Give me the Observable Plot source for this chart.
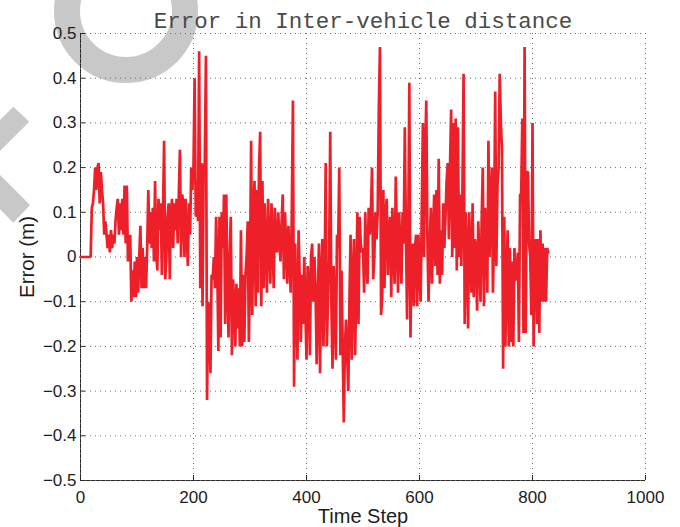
<!DOCTYPE html>
<html>
<head>
<meta charset="utf-8">
<script src="https://cdn.jsdelivr.net/npm/d3@7"></script>
<script src="https://cdn.jsdelivr.net/npm/@observablehq/plot@0.6"></script>
<style>
  html, body { margin: 0; padding: 0; background: #fff; }
  #chart { width: 680px; height: 527px; }
</style>
</head>
<body>
<div id="chart"></div>
<script>
// Spacing error between the two vehicles, sampled every 2 time steps (t = 0 … 828).
const sampleStep = 2;
const errorMeters = [
  0, 0, 0, 0, 0, 0, 0, 0, 0, 0,
  0.11, 0.12, 0.15, 0.20, 0.15, 0.20, 0.21, 0.12, 0.19, 0.15,
  0.12, 0.05, 0.08, 0.05, 0.02, 0.05, 0.01, 0.06, 0.02, 0.05,
  0.03, 0.08, 0.11, 0.13, 0.05, 0.12, 0.06, 0.13, 0.05, 0.16,
  0.03, 0.16, -0.01, 0.02, 0.05, -0.10, -0.03, -0.09, -0.01, -0.09,
  0.00, -0.08, 0.00, 0.07, -0.07, 0.02, -0.07, 0.00, -0.07, 0.02,
  0.15, 0.03, 0.10, 0.02, 0.11, -0.01, 0.17, 0.01, -0.03, 0.13,
  0.06, 0.12, -0.04, 0.10, 0.26, -0.05, 0.00, 0.09, 0.12, -0.05,
  0.10, 0.13, 0.02, 0.12, 0.06, 0.13, 0.03, 0.14, 0.24, 0.00,
  0.14, 0.12, 0.00, 0.13, 0.05, -0.02, 0.12, 0.05, 0.20, 0.15,
  0.20, 0.40, 0.09, 0.17, 0.08, 0.46, -0.07, 0.21, -0.11, 0.20,
  0.21, 0.45, -0.32, -0.10, -0.12, -0.26, -0.04, -0.05, 0.00, -0.07,
  0.09, -0.01, -0.21, 0.09, -0.18, 0.10, 0.02, 0.14, -0.15, 0.14,
  -0.05, -0.18, 0.00, 0.09, -0.22, -0.05, -0.10, -0.20, -0.06, -0.16,
  -0.07, -0.20, 0.06, -0.20, -0.04, -0.19, -0.04, 0.00, 0.08, -0.19,
  -0.03, 0.26, -0.13, 0.10, 0.17, -0.11, 0.15, -0.08, 0.20, 0.28,
  -0.11, 0.17, -0.07, 0.12, 0.02, -0.08, 0.13, 0.03, -0.06, 0.12,
  0.04, -0.07, 0.11, 0.03, 0.01, 0.10, 0.04, -0.01, 0.08, 0.14,
  -0.05, 0.10, 0.02, -0.06, 0.07, 0.00, -0.08, 0.10, 0.35, -0.29,
  0.03, -0.10, -0.23, 0.06, -0.05, -0.19, -0.04, -0.15, 0.00, -0.12,
  -0.23, -0.02, -0.05, -0.22, 0.00, 0.03, -0.10, 0.00, -0.07, -0.24,
  -0.10, 0.03, -0.26, -0.05, 0.04, -0.20, -0.05, 0.21, -0.20, -0.10,
  -0.01, 0.28, -0.10, -0.25, -0.02, -0.12, -0.23, 0.05, 0.02, 0.20,
  -0.22, -0.03, -0.20, -0.37, -0.20, -0.14, -0.22, -0.30, -0.10, 0.05,
  -0.23, -0.05, 0.04, -0.22, -0.08, 0.10, -0.15, 0.09, 0.03, 0.01,
  0.02, -0.08, 0.10, 0.00, -0.06, 0.11, 0.05, 0.10, 0.20, -0.05,
  0.00, 0.10, 0.04, 0.10, 0.33, 0.47, -0.13, -0.09, 0.15, -0.07,
  0.10, 0.13, -0.04, 0.05, 0.09, -0.09, 0.11, 0.00, -0.06, 0.18,
  0.04, -0.08, 0.10, 0.02, -0.06, 0.10, 0.03, 0.29, 0.05, -0.14,
  0.04, 0.39, -0.18, 0.00, 0.03, -0.11, 0.02, 0.05, -0.11, 0.05,
  -0.03, -0.10, 0.10, 0.30, 0.00, 0.23, 0.35, 0.04, -0.10, 0.02,
  0.11, -0.06, 0.05, 0.14, -0.02, 0.15, -0.04, 0.22, -0.06, 0.06,
  -0.04, 0.12, 0.02, 0.09, 0.17, 0.21, 0.04, 0.20, 0.33, 0.00,
  0.30, 0.02, 0.31, -0.03, 0.29, 0.00, 0.14, -0.02, 0.15, 0.41,
  -0.15, 0.10, 0.02, -0.16, 0.10, 0.00, -0.08, 0.12, -0.09, 0.04,
  0.02, -0.12, 0.08, 0.00, -0.10, 0.08, 0.20, -0.11, 0.11, 0.03,
  -0.08, 0.26, 0.00, 0.12, 0.20, -0.08, 0.05, 0.37, -0.02, 0.16,
  0.20, 0.41, 0.30, 0.24, -0.25, 0.09, -0.20, -0.05, 0.06, -0.20,
  0.02, -0.19, -0.01, -0.20, 0.02, -0.05, -0.05, 0.01, -0.19, 0.14,
  0.14, 0.31, -0.17, 0.47, -0.17, 0.19, 0.19, 0.03, 0.00, -0.13,
  0.30, -0.20, 0.00, 0.04, -0.15, 0.04, -0.17, 0.06, -0.10, 0.03,
  -0.10, 0.02, -0.10, 0.02, 0.01
];
const timeSteps = errorMeters.map((_, i) => i * sampleStep);

const xTicks = [0, 200, 400, 600, 800, 1000];
const yTicks = [-0.5, -0.4, -0.3, -0.2, -0.1, 0, 0.1, 0.2, 0.3, 0.4, 0.5];

const titleText = "Error in Inter-vehicle distance";
const xLabel = "Time Step";
const yLabel = "Error (m)";

const series = timeSteps.map((t, i) => ({t, e: errorMeters[i]}));
const fmtY = d => d === 0 ? "0" : d3.format(".1f")(d).replace("-", "\u2212");

const dotted = {stroke: "#6b6b6b", strokeOpacity: 1, strokeWidth: 1, strokeDasharray: "1,4"};

const chart = Plot.plot({
  width: 680,
  height: 527,
  marginLeft: 80,
  marginRight: 35,
  marginTop: 33,
  marginBottom: 47,
  style: {
    fontFamily: "'Liberation Sans', Helvetica, Arial, sans-serif",
    fontSize: "17px",
    color: "#1c1c1c",
    background: "transparent"
  },
  x: {domain: [0, 1000]},
  y: {domain: [-0.5, 0.5]},
  marks: [
    // axis lines (left and bottom only)
    Plot.ruleX([0], {stroke: "#2a2a2a", strokeWidth: 1}),
    Plot.ruleY([-0.5], {stroke: "#2a2a2a", strokeWidth: 1}),
    // dotted grid
    Plot.gridX(xTicks, dotted),
    Plot.gridY(yTicks, dotted),
    // inward tick marks
    Plot.axisX(xTicks, {tickSize: 5, dy: -5, tickFormat: () => "", label: null, stroke: "#2a2a2a"}),
    Plot.axisY(yTicks, {tickSize: 5, dx: 5, tickFormat: () => "", label: null, stroke: "#2a2a2a"}),
    // tick labels
    Plot.axisX(xTicks, {tickSize: 0, tickPadding: 10, tickFormat: d => String(d), label: null, fontSize: 17}),
    Plot.axisY(yTicks, {tickSize: 0, tickPadding: 4, tickFormat: fmtY, label: null, fontSize: 17}),
    // the error trace
    Plot.line(series, {x: "t", y: "e", stroke: "#ed1f28", strokeWidth: 2.7, strokeLinejoin: "miter"}),
    // title and axis titles
    Plot.text([titleText], {text: d => d, frameAnchor: "top", lineAnchor: "bottom", dy: -6,
      fontFamily: "'Liberation Mono', 'Courier New', monospace", fontSize: 22.5, fill: "#4a4a4a"}),
    Plot.text([xLabel], {text: d => d, frameAnchor: "bottom", lineAnchor: "bottom", dy: 42,
      fontSize: 20, fill: "#1c1c1c"}),
    Plot.text([yLabel], {text: d => d, frameAnchor: "left", textAnchor: "middle", lineAnchor: "bottom",
      rotate: -90, dx: -47, fontSize: 20.5, fill: "#1c1c1c"})
  ]
});

// faint grey watermark shapes behind everything
const svg = d3.select(chart);
const wm = svg.insert("g", ":first-child").attr("fill", "#c8c8c8");
wm.append("circle")
  .attr("cx", 126).attr("cy", 11).attr("r", 59)
  .attr("fill", "none").attr("stroke", "#c8c8c8").attr("stroke-width", 26);
wm.append("polygon")
  .attr("points", "0,120 13.3,106.7 29.3,121.7 -12,163 30,205 13.3,222.7 0,209.3");

document.getElementById("chart").appendChild(chart);
</script>
</body>
</html>
